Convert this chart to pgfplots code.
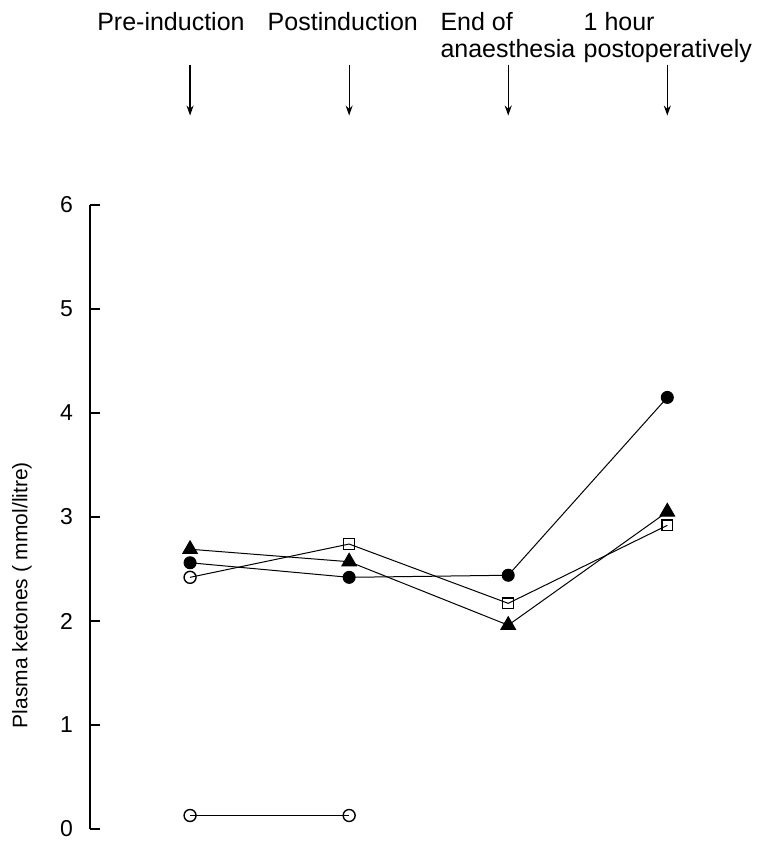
\documentclass[border=0pt]{standalone}
\usepackage{pgfplots}
\pgfplotsset{compat=1.18}
\usetikzlibrary{arrows.meta}
\usepackage{fontspec}
\setmainfont{Liberation Sans}
\begin{document}
\begin{tikzpicture}
\begin{axis}[
  scale only axis,
  width=312.5pt, height=312pt,
  xmin=-0.629, xmax=3.30,
  ymin=0, ymax=6,
  axis x line=none,
  axis y line*=left,
  ytick={0,1,2,3,4,5,6},
  xtick=\empty,
  tick align=inside,
  major tick length=5pt,
  tick style={line width=0.6pt, black},
  axis line style={line width=0.7pt},
  /pgf/number format/assume math mode=true,
  yticklabel style={font=\fontsize{11.5}{13}\selectfont, xshift=-5pt},
  clip=false,
]
\addplot[black, line width=0.5pt, mark=*, mark size=3pt] coordinates {(0,2.56) (1,2.42) (2,2.44) (3,4.15)};
\addplot[black, line width=0.5pt, mark=triangle*, mark size=4.2pt] coordinates {(0,2.69) (1,2.57) (2,1.96) (3,3.05)};
\addplot[black, line width=0.5pt, mark=square, mark size=2.7pt, mark indices={2,3,4}, mark options={fill=white, line width=0.6pt}] coordinates {(0,2.42) (1,2.74) (2,2.17) (3,2.92)};
\addplot[only marks, mark=o, mark size=3pt, mark options={fill=white, line width=0.7pt}] coordinates {(0,2.42)};
\addplot[black, line width=0.5pt, mark=o, mark size=3pt, mark options={fill=white, line width=0.7pt}] coordinates {(0,0.13) (1,0.13)};

\foreach \xx in {0,1,2,3} {
  \edef\tmp{\noexpand\draw[line width=0.6pt, -{Stealth[length=5pt,width=3.5pt]}] (axis cs:\xx,7.35) -- (axis cs:\xx,6.86);}
  \tmp
}
\node[anchor=base, font=\fontsize{12.5}{14}\selectfont] at (axis cs:-0.12,7.68) {Pre-induction};
\node[anchor=base, font=\fontsize{12.5}{14}\selectfont] at (axis cs:0.96,7.68) {Postinduction};
\node[anchor=base west, inner sep=0pt, font=\fontsize{12.5}{14}\selectfont] at (axis cs:1.572,7.68) {End of};
\node[anchor=base west, inner sep=0pt, font=\fontsize{12.5}{14}\selectfont] at (axis cs:1.572,7.42) {anaesthesia};
\node[anchor=base west, inner sep=0pt, font=\fontsize{12.5}{14}\selectfont] at (axis cs:2.472,7.68) {1 hour};
\node[anchor=base west, inner sep=0pt, font=\fontsize{12.5}{14}\selectfont] at (axis cs:2.472,7.42) {postoperatively};
\node[rotate=90, font=\fontsize{10.5}{12}\selectfont] at (rel axis cs:-0.109,0.375) {Plasma ketones ( mmol/litre)};
\coordinate (bl) at (rel axis cs:-0.144,-0.0256);
\coordinate (tr) at (rel axis cs:1.0912,1.3285);
\end{axis}
\pgfresetboundingbox
\path[use as bounding box] (bl) rectangle (tr);
\end{tikzpicture}
\end{document}
